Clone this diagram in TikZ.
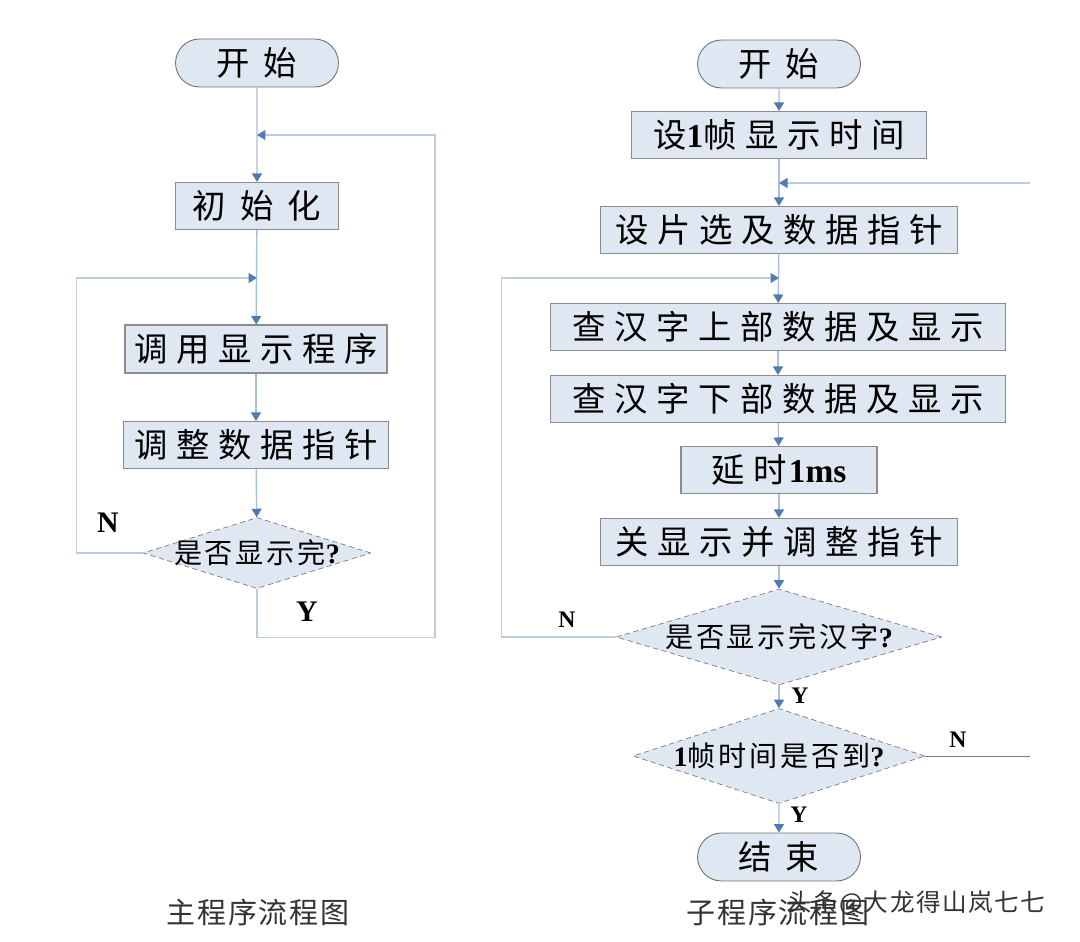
\documentclass[tikz,border=0pt]{standalone}
\usepackage{fontspec}
\usepackage{xcolor}
\usepackage{tikz}
\usetikzlibrary{shapes.geometric,shapes.misc,arrows.meta}
\setmainfont{Liberation Serif}
\newfontfamily\cjk[LetterSpace=26]{Noto Sans CJK SC}
\newfontfamily\cjkwide[LetterSpace=42]{Noto Sans CJK SC}
\newfontfamily\cjkd[LetterSpace=10]{Noto Sans CJK SC}
\newfontfamily\cjkcap[LetterSpace=6]{Noto Sans CJK SC}
\newcommand{\lat}[1]{{\rmfamily\bfseries #1}}
\definecolor{boxfill}{HTML}{DFE7F2}
\definecolor{boxline}{HTML}{8C8C8C}
\definecolor{termline}{HTML}{707070}
\definecolor{condline}{HTML}{7A7A7A}
\definecolor{linec}{HTML}{A9BFD9}
\definecolor{loopc}{HTML}{BCCDE0}
\definecolor{arrowc}{HTML}{4F7BB0}
\definecolor{capc}{HTML}{333333}

\begin{document}
\begin{tikzpicture}[x=0.02cm, y=-0.02cm,
    box/.style={draw=boxline, fill=boxfill, line width=0.6pt, inner sep=0pt,
        minimum height=0.94cm, font=\cjk\fontsize{19}{22}\selectfont},
    term/.style={rounded rectangle, draw=termline, fill=boxfill, line width=0.5pt,
        inner sep=0pt, minimum width=3.26cm, minimum height=0.96cm,
        font=\cjkwide\fontsize{19}{22}\selectfont},
    cond/.style={diamond, draw=condline, densely dashed, fill=boxfill, line width=0.4pt,
        inner sep=0pt, font=\cjkd\fontsize{16}{18}\selectfont},
    tip/.style={-{Triangle[width=0.2cm, length=0.17cm, color=arrowc]}},
    flow/.style={draw=linec, line width=0.8pt, tip},
    back/.style={draw=loopc, line width=0.6pt},
    yn/.style={font=\bfseries\fontsize{17}{17}\selectfont},
    yns/.style={font=\bfseries\fontsize{13.5}{14}\selectfont},
    captxt/.style={text=capc, font=\cjkcap\fontsize{16.5}{19}\selectfont}
]
    \useasboundingbox (0,0) rectangle (1080,942);

    % Main program
    \node[term] (s1) at (257,63) {开始};
    \node[box, minimum width=3.26cm, font=\cjkwide\fontsize{19}{22}\selectfont] (init) at (257,206) {初始化};
    \node[box, minimum width=5.24cm, minimum height=0.96cm] (call) at (256,349) {调用显示程序};
    \node[box, minimum width=5.3cm] (adj) at (256,445) {调整数据指针};
    \node[cond, minimum width=4.56cm, minimum height=1.42cm] (dec1) at (257,553)
        {\makebox[0pt]{是否显示完\lat{?}}};

    \coordinate (m1) at (257,135);
    \coordinate (m2) at (257,278);

    \draw[flow] (s1) -- (init);
    \draw[flow] (init) -- (call);
    \draw[flow] (call) -- (adj);
    \draw[flow] (adj) -- (dec1);
    \draw[back, tip] (dec1.west) -- ++(-66,0) |- (m2);
    \draw[back, tip] (dec1.south) -- ++(0,49) -- ++(178,0) |- (m1);

    \node[yn] (n1) at (108,523) {N};
    \node[yn] (y1) at (307,612) {Y};

    % Subroutine
    \node[term] (s2) at (779,64) {开始};
    \node[box, minimum width=5.9cm] (fr) at (779,135) {设\lat{1}帧显示时间};
    \node[box, minimum width=7.16cm] (cs) at (779,230) {设片选及数据指针};
    \node[box, minimum width=9.12cm] (up) at (778,327) {查汉字上部数据及显示};
    \node[box, minimum width=9.12cm] (dn) at (778,399) {查汉字下部数据及显示};
    \node[box, minimum width=3.92cm] (dl) at (779,470) {延时\hspace{0.05em}\lat{1ms}};
    \node[box, minimum width=7.16cm] (off) at (779,542) {关显示并调整指针};
    \node[cond, minimum width=6.52cm, minimum height=1.92cm] (dec2) at (779,637)
        {\makebox[0pt]{是否显示完汉字\lat{?}}};
    \node[cond, minimum width=5.84cm, minimum height=1.9cm] (dec3) at (779,756)
        {\makebox[0pt]{\lat{1}帧时间是否到\lat{?}}};
    \node[term] (end) at (779,857) {结束};

    \coordinate (m3) at (779,183);
    \coordinate (m4) at (779,278);
    \coordinate (rt) at (1030,183);
    \coordinate (rn) at (1030,756);

    \draw[flow] (s2) -- (fr);
    \draw[flow] (fr) -- (cs);
    \draw[back, tip] (rt) -- (m3);
    \draw[flow] (cs) -- (up);
    \draw[flow] (up) -- (dn);
    \draw[flow] (dn) -- (dl);
    \draw[flow] (dl) -- (off);
    \draw[flow] (off) -- (dec2);
    \draw[back, tip] (dec2.west) -- ++(-114,0) |- (m4);
    \draw[flow] (dec2) -- (dec3);
    \draw[flow] (dec3) -- (end);
    \draw[draw=condline, line width=0.5pt] (dec3.east) -- (rn);

    \node[yns] (n2) at (567,620) {N};
    \node[yns] (y2) at (800,696) {Y};
    \node[yns] (n3) at (958,740) {N};
    \node[yns] (y3) at (799,815) {Y};

    % Captions
    \node[captxt] (c1) at (258,912) {主程序流程图};
    \node[captxt] (c2) at (778,912) {子程序流程图};
    \node[text=black!80, font=\cjkcap\fontsize{14}{16}\selectfont] (wm) at (916,903) {头条@大龙得山岚七七};
\end{tikzpicture}
\end{document}
